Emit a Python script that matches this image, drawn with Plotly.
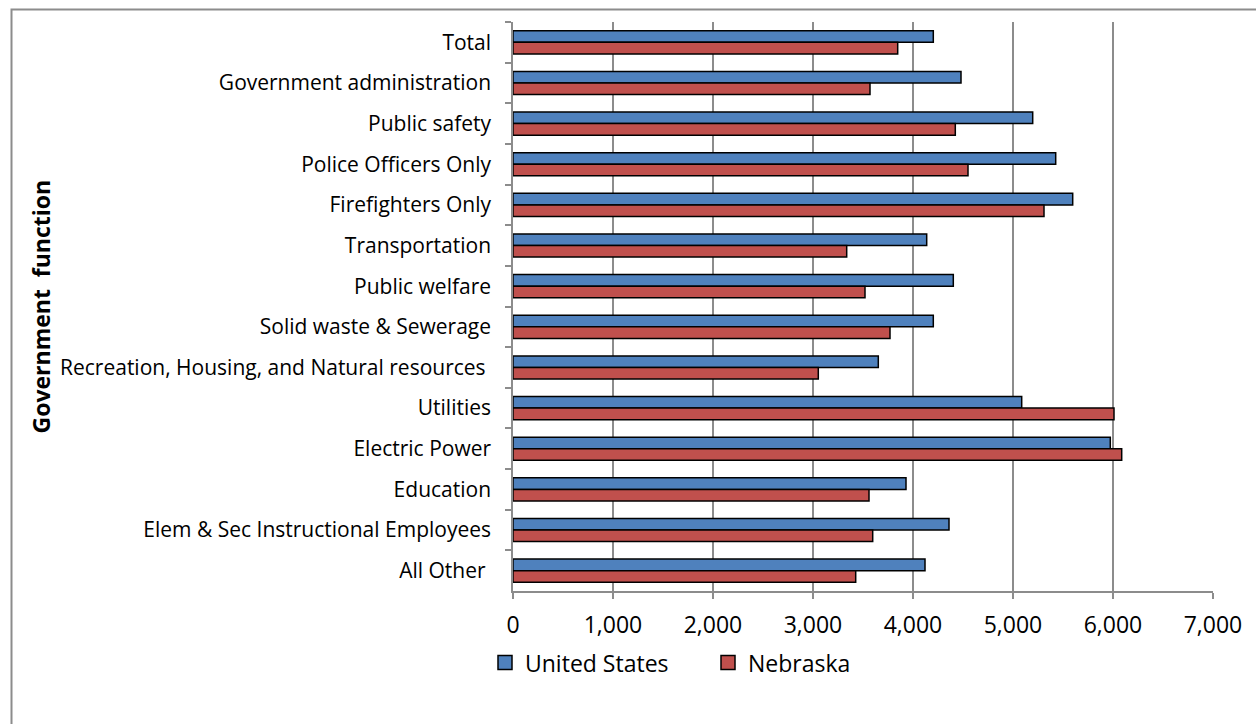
import plotly.graph_objects as go

categories = [
    "Total",
    "Government administration",
    "Public safety",
    "Police Officers Only",
    "Firefighters Only",
    "Transportation",
    "Public welfare",
    "Solid waste & Sewerage",
    "Recreation, Housing, and Natural resources\u00a0",
    "Utilities",
    "Electric Power",
    "Education",
    "Elem & Sec Instructional Employees",
    "All Other\u00a0",
]
united_states = [4203, 4480, 5197, 5427, 5597, 4137, 4403, 4203, 3653, 5087, 5973, 3930, 4360, 4120]
nebraska = [3847, 3570, 4423, 4550, 5310, 3337, 3520, 3770, 3053, 6010, 6087, 3560, 3597, 3427]
x_ticks = [0, 1000, 2000, 3000, 4000, 5000, 6000, 7000]
x_tick_labels = ["0", "1,000", "2,000", "3,000", "4,000", "5,000", "6,000", "7,000"]

series = [("United States", united_states, "#4F81BD"), ("Nebraska", nebraska, "#C0504D")]

FONT = "Open Sans"
W, H = 1256, 724
L, R, T, B = 513, 43, 22, 133
pw, ph = W - L - R, H - T - B

fig = go.Figure()
for name, values, color in series:
    fig.add_trace(go.Bar(
        y=categories, x=values, orientation="h", name=name, showlegend=False,
        marker=dict(color=color, line=dict(color="#000000", width=1.5)),
    ))
# legend keys: square swatches with a dark outline
for name, values, color in series:
    fig.add_trace(go.Scatter(
        x=[None], y=[None], mode="markers", name=name,
        marker=dict(symbol="square", size=14, color=color, line=dict(color="#000000", width=1.5)),
    ))

# outer chart frame
fig.add_shape(
    type="rect", xref="paper", yref="paper",
    x0=(11.5 - L) / pw, x1=1.2,
    y0=-0.5, y1=(T + ph - 9.5) / ph,
    line=dict(color="#8c8c8c", width=2), fillcolor="rgba(0,0,0,0)", layer="below",
)

fig.add_annotation(
    text="<b>Government  function</b>", textangle=-90,
    xref="paper", yref="paper", x=(40 - L) / pw, y=0.5,
    xanchor="center", yanchor="middle",
    showarrow=False, font=dict(family=FONT, size=23, color="#000000"),
)

fig.update_layout(
    width=W, height=H,
    margin=dict(l=L, r=R, t=T, b=B, autoexpand=False),
    paper_bgcolor="white", plot_bgcolor="white",
    barmode="group", bargap=0.43, bargroupgap=0,
    font=dict(family=FONT, size=21, color="#000000"),
    showlegend=True,
    legend=dict(
        orientation="h", x=(485 - L) / pw, y=-0.088, xanchor="left", yanchor="top",
        font=dict(family=FONT, size=23, color="#000000"),
        itemwidth=30, entrywidth=178, tracegroupgap=0,
    ),
    xaxis=dict(
        range=[0, 7000], tickvals=x_ticks, ticktext=x_tick_labels,
        showgrid=True, gridcolor="#8c8c8c", gridwidth=1.5,
        showline=True, linecolor="#8c8c8c", linewidth=1.5,
        ticks="outside", ticklen=6, tickcolor="#8c8c8c", tickwidth=1.5,
        ticklabelstandoff=7,
        tickfont=dict(family=FONT, size=23, color="#000000"),
        zeroline=False, fixedrange=True,
    ),
    yaxis=dict(
        autorange="reversed", type="category",
        showline=True, linecolor="#8c8c8c", linewidth=1.5,
        ticks="outside", ticklen=6, tickcolor="#8c8c8c", tickwidth=1.5,
        tickson="boundaries", ticklabelstandoff=16,
        tickfont=dict(family=FONT, size=21, color="#000000"),
        showgrid=False, fixedrange=True,
    ),
)

fig.write_html("out.html")
